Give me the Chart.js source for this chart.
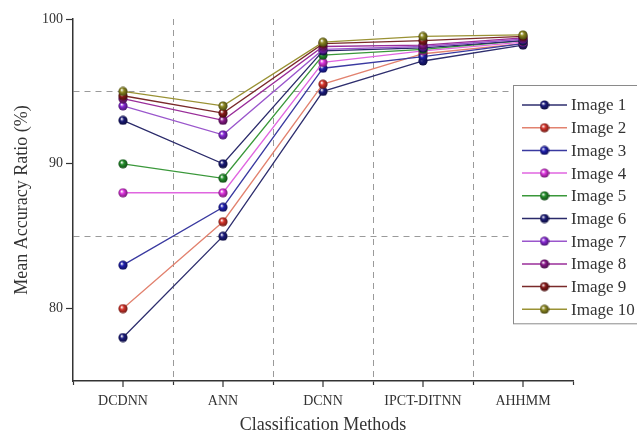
<!DOCTYPE html>
<html>
<head>
<meta charset="utf-8">
<script src="https://cdn.jsdelivr.net/npm/chart.js@4.4.1/dist/chart.umd.min.js"></script>
<style>
html,body{margin:0;padding:0;background:#fff;}
#wrap{width:637px;height:436px;}
</style>
</head>
<body>
<div id="wrap"><canvas id="c" width="637" height="436"></canvas></div>
<script>
const categories = ['DCDNN', 'ANN', 'DCNN', 'IPCT-DITNN', 'AHHMM'];
const seriesNames = ['Image 1','Image 2','Image 3','Image 4','Image 5','Image 6','Image 7','Image 8','Image 9','Image 10'];
const image1  = [78,   85,   95.0, 97.1, 98.2];
const image2  = [80,   86,   95.5, 97.6, 98.3];
const image3  = [83,   87,   96.6, 97.4, 98.3];
const image4  = [88,   88,   97.0, 97.8, 98.4];
const image5  = [90,   89,   97.5, 97.9, 98.5];
const image6  = [93,   90,   97.8, 98.0, 98.5];
const image7  = [94,   92,   97.9, 98.1, 98.6];
const image8  = [94.5, 93,   98.1, 98.2, 98.7];
const image9  = [94.7, 93.5, 98.3, 98.5, 98.8];
const image10 = [95,   94,   98.4, 98.8, 98.9];
const yTickLabels = [80, 90, 100];
const dashedGridValues = [85, 95];

const seriesValues = [image1,image2,image3,image4,image5,image6,image7,image8,image9,image10];
const lineColors  = ['#2e2e6e','#e2826f','#3a3aa0','#e066e0','#3a983a','#2a2a6a','#9a56cc','#9a2e9a','#7a2a2a','#9a9234'];
const pointColors = ['#1c1c80','#d8352c','#2020b0','#e034e0','#24902c','#1a1a78','#8a2ad8','#8c1a8c','#8a1a1a','#8e8a22'];

function darken(hex, f){
  const n = parseInt(hex.slice(1),16);
  const r = Math.round(((n>>16)&255)*f), g = Math.round(((n>>8)&255)*f), b = Math.round((n&255)*f);
  return 'rgb('+r+','+g+','+b+')';
}
function sphere(color){
  const c = document.createElement('canvas');
  c.width = 10; c.height = 10;
  const g = c.getContext('2d');
  const grad = g.createRadialGradient(3.6,3.4,0.3,5,5,5);
  grad.addColorStop(0,'#ffffff');
  grad.addColorStop(0.35,color);
  grad.addColorStop(1,darken(color,0.45));
  g.fillStyle = grad;
  g.beginPath(); g.arc(5,5,4.6,0,Math.PI*2); g.fill();
  return c;
}
const spheres = pointColors.map(sphere);

const datasets = seriesNames.map((name,i)=>({
  label: name,
  data: seriesValues[i],
  borderColor: lineColors[i],
  backgroundColor: pointColors[i],
  borderWidth: 1.3,
  tension: 0,
  pointStyle: spheres[i],
  pointRadius: 5,
  pointHoverRadius: 5,
  order: seriesNames.length - i
}));

const FONT = '"Liberation Serif", "DejaVu Serif", serif';
const TEXT = '#333333';

const extras = {
  id: 'extras',
  afterDraw(chart){
    const ctx = chart.ctx;
    const xs = chart.scales.x;
    const ca = chart.chartArea;
    // center tick marks on x axis
    ctx.save();
    ctx.strokeStyle = '#333';
    ctx.lineWidth = 1.2;
    for (let i = 0; i < categories.length; i++){
      const px = xs.getPixelForTick(i);
      ctx.beginPath(); ctx.moveTo(px, ca.bottom); ctx.lineTo(px, ca.bottom + 6); ctx.stroke();
    }
    ctx.restore();
    // legend
    const left = ca.right - 60, top = ca.top + 66;
    const rowH = 22.7, firstY = top + 20;
    const boxH = firstY - top + rowH * (chart.data.datasets.length - 1) + 14;
    ctx.save();
    ctx.fillStyle = '#ffffff';
    ctx.fillRect(left, top, 140, boxH);
    ctx.strokeStyle = '#8a8a8a';
    ctx.lineWidth = 1;
    ctx.strokeRect(left + 0.5, top + 0.5, 140, boxH);
    ctx.font = '17px ' + FONT;
    ctx.textBaseline = 'middle';
    ctx.textAlign = 'left';
    chart.data.datasets.forEach((ds, i) => {
      const y = firstY + i * rowH;
      ctx.strokeStyle = ds.borderColor;
      ctx.lineWidth = 1.5;
      ctx.beginPath(); ctx.moveTo(left + 9, y); ctx.lineTo(left + 54, y); ctx.stroke();
      ctx.drawImage(ds.pointStyle, left + 31.5 - 5, y - 5);
      ctx.fillStyle = TEXT;
      ctx.fillText(ds.label, left + 58, y + 1);
    });
    ctx.restore();
  }
};

new Chart(document.getElementById('c'), {
  type: 'line',
  data: { labels: categories, datasets },
  options: {
    responsive: false,
    animation: false,
    events: [],
    layout: { padding: { top: 19, right: 64, left: 0, bottom: 0 } },
    plugins: { legend: { display: false }, tooltip: { enabled: false } },
    scales: {
      x: {
        type: 'category',
        offset: true,
        grid: {
          offset: true,
          color: (c) => (c.index > 0 && c.index < categories.length) ? '#9a9a9a' : 'rgba(0,0,0,0)',
          lineWidth: 1,
          drawTicks: true,
          tickLength: 4,
          tickColor: '#333',
          tickWidth: 1.2
        },
        border: { display: true, color: '#333', width: 1.5, dash: [6, 5] },
        ticks: { color: TEXT, font: { family: FONT, size: 14 }, padding: 8, maxRotation: 0, autoSkip: false },
        title: { display: true, text: 'Classification Methods', color: TEXT, font: { family: FONT, size: 18 }, padding: { top: 0, bottom: 0 } },
        afterFit(s){ s.height = 55; }
      },
      y: {
        min: 75, max: 100,
        ticks: {
          stepSize: 5,
          color: TEXT,
          font: { family: FONT, size: 14 },
          padding: 3,
          callback: (v) => yTickLabels.includes(v) ? String(v) : ''
        },
        grid: {
          color: (c) => (c.tick && dashedGridValues.includes(c.tick.value)) ? '#9a9a9a' : 'rgba(0,0,0,0)',
          lineWidth: 1,
          drawTicks: true,
          tickLength: 7,
          tickColor: (c) => (c.tick && yTickLabels.includes(c.tick.value)) ? '#333' : 'rgba(0,0,0,0)',
          tickWidth: 1.2
        },
        border: { display: true, color: '#333', width: 1.5, dash: [6, 5] },
        title: { display: true, text: 'Mean Accuracy Ratio (%)', color: TEXT, font: { family: FONT, size: 18 }, padding: { top: 11, bottom: 0 } },
        afterFit(s){ s.width = 73; }
      }
    }
  },
  plugins: [extras]
});
</script>
</body>
</html>
